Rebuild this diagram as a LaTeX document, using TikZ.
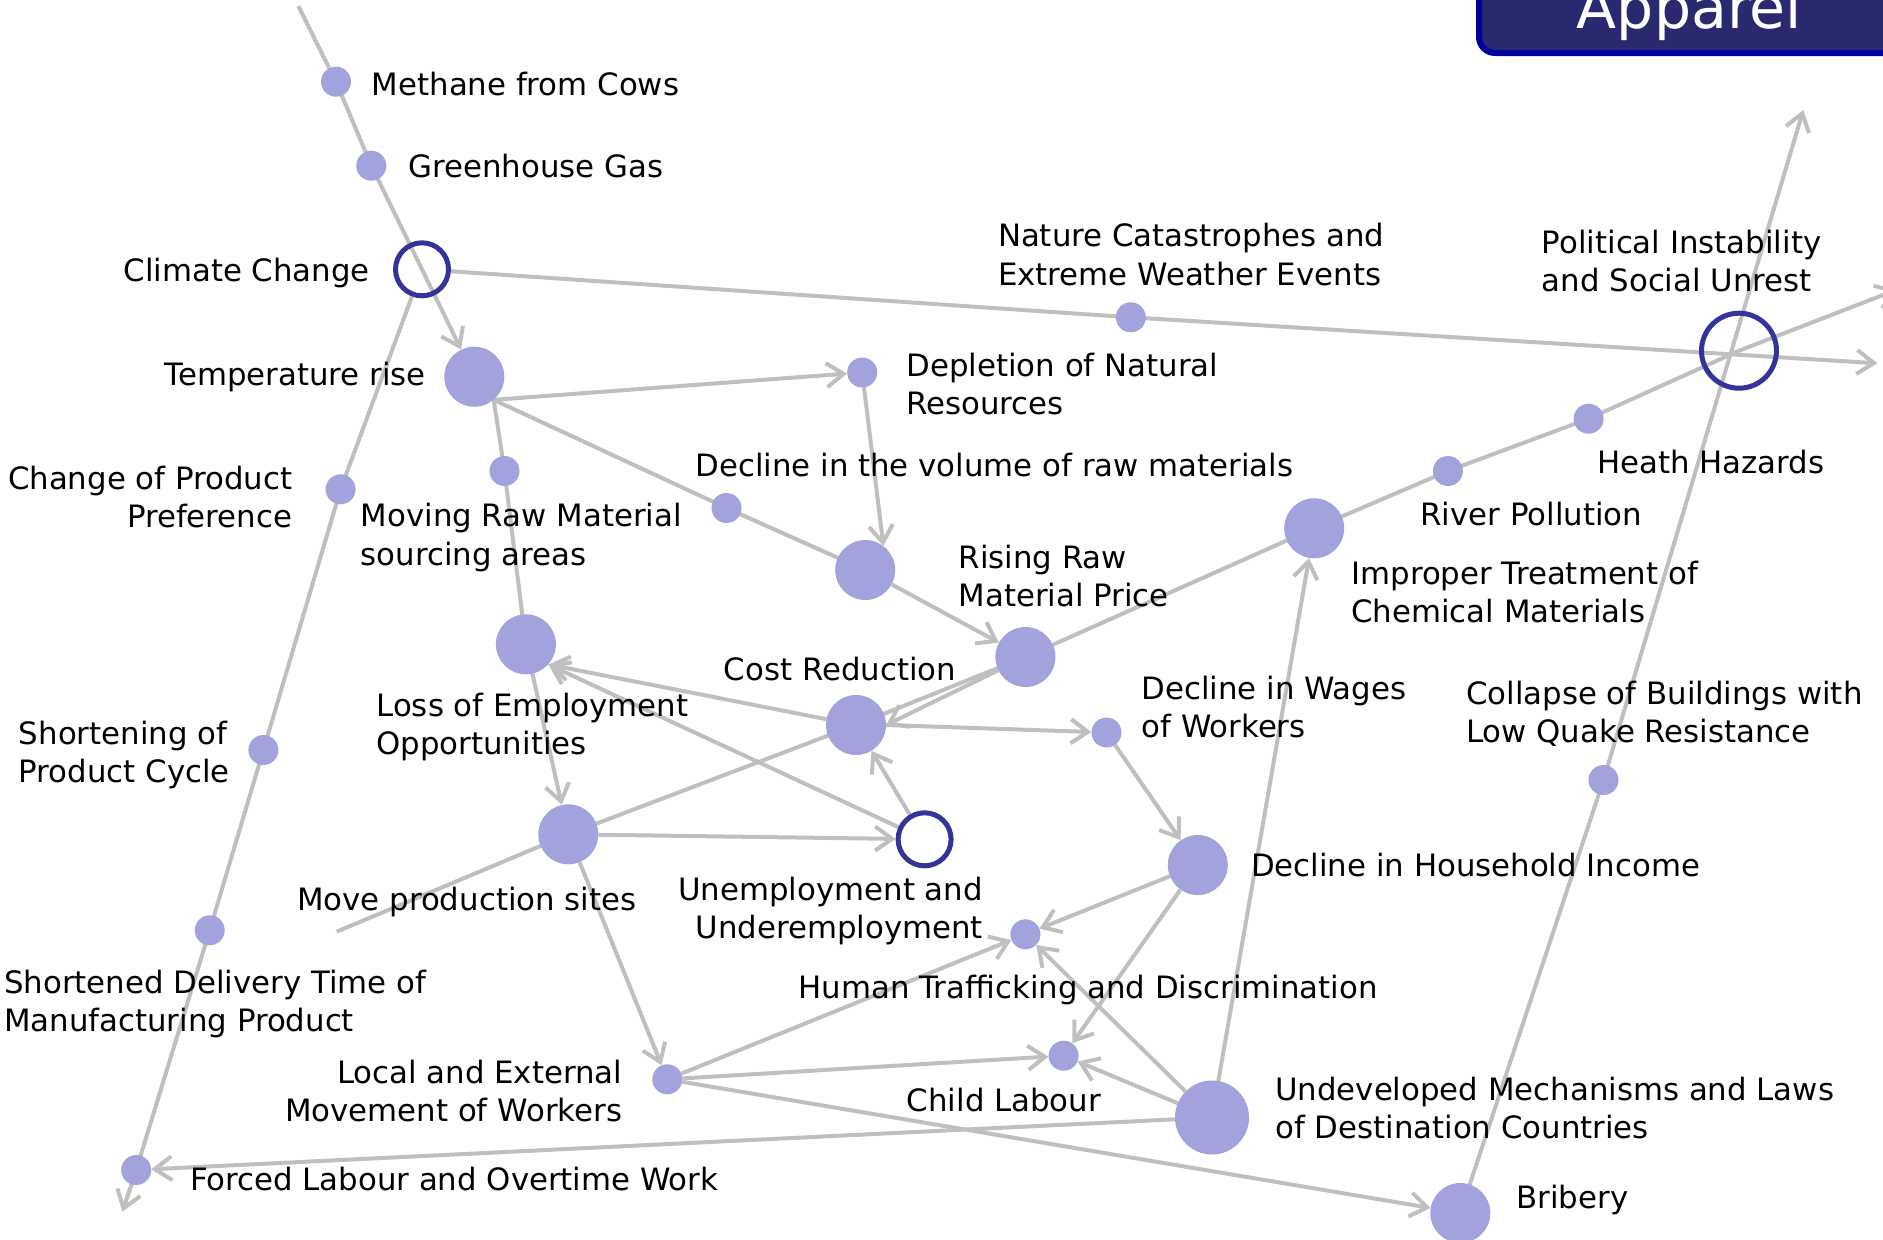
\documentclass[tikz,border=0pt]{standalone}
\usepackage{fontspec}
\setmainfont{DejaVu Sans}
\usetikzlibrary{arrows.meta,backgrounds}
\definecolor{dotc}{RGB}{162,162,220}
\definecolor{ringc}{RGB}{51,51,153}
\definecolor{edgec}{RGB}{191,191,191}
\definecolor{titlefill}{RGB}{41,41,112}
\definecolor{titleline}{RGB}{0,0,160}
\begin{document}
\begin{tikzpicture}[x=1pt,y=-1pt,
  sdot/.style={circle,fill=dotc,draw=none,inner sep=0pt,minimum size=30pt},
  bdot/.style={circle,fill=dotc,draw=none,inner sep=0pt,minimum size=60pt},
  hdot/.style={circle,fill=dotc,draw=none,inner sep=0pt,minimum size=74pt},
  ring/.style={circle,draw=ringc,line width=5pt,fill=none,inner sep=0pt,minimum size=53pt},
  lab/.style={font=\fontsize{30.8pt}{38.3pt}\selectfont,inner sep=0pt,text=black},
  labl/.style={lab,anchor=base west,align=left},
  labr/.style={lab,anchor=base east,align=right},
  conn/.style={draw=edgec,line width=4pt,line join=round},
  arr/.style={conn,-{Straight Barb[length=17pt,width=24pt]}},
]
\useasboundingbox (0,0) rectangle (1883,1240);

% title
\draw[fill=titlefill,draw=titleline,line width=6pt,rounded corners=16pt] (1479,-60) rectangle (1930,53);
\node[font=\fontsize{58.5pt}{60pt}\selectfont,text=white,anchor=base west,inner sep=0pt] (title) at (1576.7,28) {Apparel};

% free ends
\coordinate (topA) at (298.3,6);
\coordinate (endR) at (1877.3,363.3);
\coordinate (topB) at (1803.3,110);
\coordinate (edgeR) at (1897,289.6);
\coordinate (botL) at (336.7,931.7);
\coordinate (botA) at (122.4,1211.7);

% dots
\node[sdot] (methane) at (336,81.7) {};
\node[sdot] (ghg) at (371.3,165.7) {};
\node[ring] (climate) at (422,269.3) {};
\node[bdot] (temp) at (474.3,376.7) {};
\node[sdot] (depl) at (862.2,372.5) {};
\node[sdot] (nature) at (1130.8,317.3) {};
\node[ring,minimum size=75pt] (polit) at (1739,350.7) {};
\node[sdot] (moving) at (504.5,471) {};
\node[sdot] (volume) at (726.5,508) {};
\node[sdot] (change) at (340.6,489.3) {};
\node[bdot] (rawA) at (865.2,570) {};
\node[bdot] (rawB) at (1025.4,657) {};
\node[bdot] (improper) at (1314.2,528.3) {};
\node[sdot] (river) at (1447.9,471) {};
\node[sdot] (heath) at (1588.6,418.7) {};
\node[bdot] (loss) at (525.9,644.3) {};
\node[bdot] (cost) at (856,725) {};
\node[sdot] (wages) at (1106.5,732.5) {};
\node[sdot] (shortening) at (263.4,750) {};
\node[sdot] (collapse) at (1603.5,780) {};
\node[bdot] (move) at (568.3,834.3) {};
\node[ring] (unemp) at (924.6,839.3) {};
\node[bdot] (household) at (1197.8,865) {};
\node[sdot] (traffic) at (1025.4,934.3) {};
\node[sdot] (shortened) at (209.7,930.3) {};
\node[sdot] (child) at (1063.6,1055.7) {};
\node[sdot] (local) at (667.3,1079.3) {};
\node[hdot] (undev) at (1212,1117.5) {};
\node[sdot] (forced) at (136.2,1170) {};
\node[bdot] (bribery) at (1460.3,1213) {};

% labels
\node[labl] (tMethane) at (371.7,95) {Methane from Cows};
\node[labl] (tGhg) at (408.3,177.7) {Greenhouse Gas};
\node[labr] (tClimate) at (370,281) {Climate Change};
\node[labr] (tTemp) at (426,385.7) {Temperature rise};
\node[labl] (tDepl) at (906.3,414.3) {Depletion of Natural\\Resources};
\node[labl] (tNature) at (997.8,285) {Nature Catastrophes and\\Extreme Weather Events};
\node[labl] (tPolit) at (1541.7,291.3) {Political Instability\\and Social Unrest};
\node[labl] (tVolume) at (695.3,476.7) {Decline in the volume of raw materials};
\node[labl] (tMoving) at (360.7,565) {Moving Raw Material\\sourcing areas};
\node[labr] (tChange) at (292.4,527.8) {Change of Product\\Preference};
\node[labl] (tRising) at (958.5,606.6) {Rising Raw\\Material Price};
\node[labl] (tRiver) at (1420.3,525) {River Pollution};
\node[labl] (tHeath) at (1597.1,473.3) {Heath Hazards};
\node[labl] (tImproper) at (1351.2,622.6) {Improper Treatment of\\Chemical Materials};
\node[labl] (tLoss) at (376.3,754.3) {Loss of Employment\\Opportunities};
\node[labl] (tCost) at (723.6,680) {Cost Reduction};
\node[labl] (tWages) at (1141.4,737.3) {Decline in Wages\\of Workers};
\node[labl] (tCollapse) at (1466,742.3) {Collapse of Buildings with\\Low Quake Resistance};
\node[labl] (tShortening) at (18.75,782.6) {Shortening of\\Product Cycle};
\node[labl] (tMove) at (297,910) {Move production sites};
\node[labr] (tUnemp) at (983,938.3) {Unemployment and\\Underemployment};
\node[labl] (tHousehold) at (1251,876.7) {Decline in Household Income};
\node[labl] (tTraffic) at (798.6,998.3) {Human Trafficking and Discrimination};
\node[labl] (tShortened) at (4,1031.6) {Shortened Delivery Time of\\Manufacturing Product};
\node[labl] (tChild) at (906.7,1111.7) {Child Labour};
\node[labr] (tLocal) at (622.4,1121.6) {Local and External\\Movement of Workers};
\node[labl] (tUndev) at (1275,1138.3) {Undeveloped Mechanisms and Laws\\of Destination Countries};
\node[labl] (tForced) at (189.8,1190.7) {Forced Labour and Overtime Work};
\node[labl] (tBribery) at (1516.3,1208.3) {Bribery};

% connectors
\begin{pgfonlayer}{background}
\draw[arr] (topA) -- (methane.center) -- (ghg.center) -- (climate.center) -- (temp);
\draw[arr] (climate) -- (nature.center) -- (endR);
\draw[arr] (bribery.center) -- (collapse.center) -- (topB);
\draw[arr] (botL) -- (move.center) -- (cost.center) -- (rawB.center) -- (improper.center) -- (river.center) -- (heath.center) -- (polit.center) -- (edgeR);
\draw[arr] (temp.-50) -- (depl);
\draw[conn] (temp.-50) -- (volume.center) -- (rawA.center);
\draw[arr] (depl.center) -- (rawA.53);
\draw[arr] (rawA) -- (rawB);
\draw[arr] (temp.-50) -- (moving.center) -- (loss.center) -- (move);
\draw[arr] (cost) -- (loss.-42);
\draw[arr] (unemp) -- (loss.-42);
\draw[arr] (unemp) -- (cost);
\draw[arr] (move) -- (unemp);
\draw[arr] (rawB) -- (cost.east);
\draw[arr] (cost.east) -- (wages);
\draw[arr] (wages) -- (household);
\draw[arr] (household) -- (traffic);
\draw[arr] (household) -- (child);
\draw[arr] (undev) -- (traffic);
\draw[arr] (undev) -- (child);
\draw[arr] (undev) -- (improper);
\draw[arr] (undev) -- (forced);
\draw[arr] (move) -- (local);
\draw[arr] (local) -- (traffic);
\draw[arr] (local) -- (child);
\draw[arr] (local) -- (bribery);
\draw[arr] (climate) -- (change.center) -- (shortening.center) -- (shortened.center) -- (forced.center) -- (botA);
\end{pgfonlayer}
\end{tikzpicture}
\end{document}
